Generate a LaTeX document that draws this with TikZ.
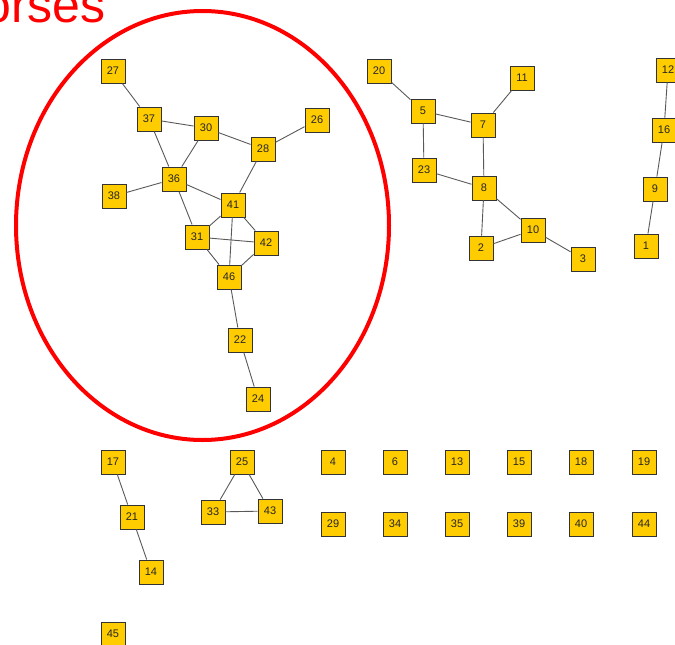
\documentclass[tikz,border=0pt]{standalone}
\usepackage{fontspec}
\setmainfont{Liberation Sans}
\begin{document}
\begin{tikzpicture}[x=1pt,y=-1pt,
  vnode/.style={draw=black!80,line width=0.9pt,fill=gold,minimum size=24pt,inner sep=0pt,
    font=\fontsize{11}{13}\selectfont,text=black!85},
  edge/.style={draw=black!65,line width=0.9pt}]
\definecolor{gold}{RGB}{255,204,0}
\useasboundingbox (0,0) rectangle (675,645);
\node[anchor=base west,text=red,font=\fontsize{50}{60}\selectfont,inner sep=0pt] (title) at (-53,22) {Horses};
\draw[red,line width=4pt] (202.5,225.5) ellipse [x radius=186.5, y radius=214.5];
% nodes
\foreach \n/\x/\y in {27/113/71,37/149/119,30/206/128,26/317/120,28/263/149,36/174/179,38/114/196,
  41/233/205,31/197/237,42/266/243,46/229/277,22/240/340,24/258/399,
  20/379/71,11/522/78,5/423/111,7/483/125,23/424/170,8/484/188,10/533/230,2/481/248,3/583/259,
  12/668/70,16/664/130,9/655/189,1/646/246,
  17/113/462,25/242/462,33/213/512,43/270/511,21/132/517,14/151/572,45/113/634,
  4/333/462,6/395/462,13/457/462,15/519/462,18/581/462,19/644/462,
  29/333/524,34/395/524,35/457/524,39/519/524,40/581/524,44/644/524}
  \node[vnode] (n\n) at (\x,\y) {\n};
% edges
\begin{scope}[on background layer/.style={}]
\end{scope}
\foreach \a/\b in {27/37,37/30,37/36,30/36,30/28,28/26,28/41,36/38,36/41,36/31,41/31,41/42,41/46,
  31/42,31/46,42/46,46/22,22/24,
  20/5,5/7,5/23,7/11,7/8,23/8,8/2,8/10,10/2,10/3,12/16,16/9,9/1,
  17/21,21/14,25/33,25/43,33/43}
  \draw[edge] (n\a) -- (n\b);
\end{tikzpicture}
\end{document}
